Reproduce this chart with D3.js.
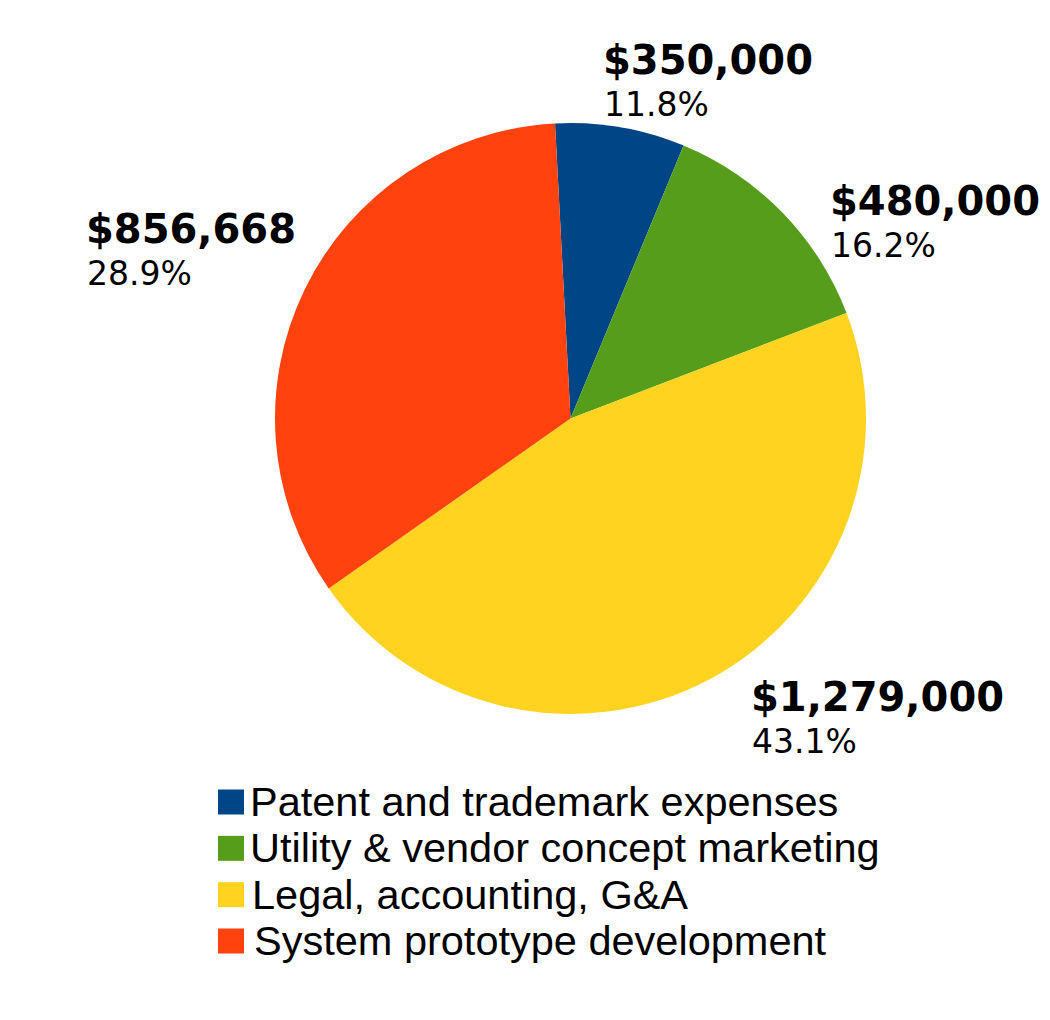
<!DOCTYPE html>
<html>
<head>
<meta charset="utf-8">
<script src="https://cdn.jsdelivr.net/npm/d3@7"></script>
<style>
  html, body { margin: 0; padding: 0; background: #fff; }
  svg { display: block; }
</style>
</head>
<body>
<svg id="chart" width="1050" height="1020"></svg>
<script>
// Categories (legend order)
const categories = [
  "Patent and trademark expenses",
  "Utility & vendor concept marketing",
  "Legal, accounting, G&A",
  "System prototype development"
];
// Amounts shown in the labels
const amounts = [350000, 480000, 1279000, 856668];
// Percent labels as printed
const percentLabels = ["11.8%", "16.2%", "43.1%", "28.9%"];
// Slice sizes as drawn in the picture (degrees of arc)
const drawnShares = [25.5, 46.6, 165.8, 122.1];
const colors = ["#004586", "#579d1c", "#ffd320", "#ff420e"];

// Label anchor positions (left x, baseline y of amount)
const labelPos = [[603, 74], [830, 215], [751, 711], [86, 243]];
const legendX = [250, 250, 252, 254];

const svg = d3.select("#chart");
const cx = 570.5, cy = 418.5, r = 295.5;

const pie = d3.pie().sort(null).value(d => d)
  .startAngle(-3 * Math.PI / 180).endAngle((360 - 3) * Math.PI / 180);
const arc = d3.arc().innerRadius(0).outerRadius(r);

const g = svg.append("g").attr("transform", `translate(${cx},${cy})`);
g.selectAll("path").data(pie(drawnShares)).join("path")
  .attr("d", arc)
  .attr("fill", (d, i) => colors[i]);

const fmt = d3.format("$,");
const lab = svg.append("g");
categories.forEach((c, i) => {
  lab.append("text")
    .attr("x", labelPos[i][0]).attr("y", labelPos[i][1])
    .attr("font-family", "DejaVu Sans").attr("font-weight", "bold")
    .attr("font-size", 40).attr("fill", "#000")
    .text(fmt(amounts[i]));
  lab.append("text")
    .attr("x", labelPos[i][0] + 1).attr("y", labelPos[i][1] + 42)
    .attr("font-family", "DejaVu Sans")
    .attr("font-size", 33).attr("fill", "#000")
    .text(percentLabels[i]);
});

// Legend
const legY = d3.scalePoint().domain(categories).range([802, 941]);
const leg = svg.append("g");
categories.forEach((c, i) => {
  const y = legY(c);
  leg.append("rect")
    .attr("x", 218).attr("y", y - 12.5).attr("width", 26).attr("height", 25)
    .attr("fill", colors[i]);
  leg.append("text")
    .attr("x", legendX[i]).attr("y", y + 14)
    .attr("font-family", "Liberation Sans, Arial, sans-serif")
    .attr("font-size", 41.5).attr("fill", "#000")
    .text(c);
});
</script>
</body>
</html>
